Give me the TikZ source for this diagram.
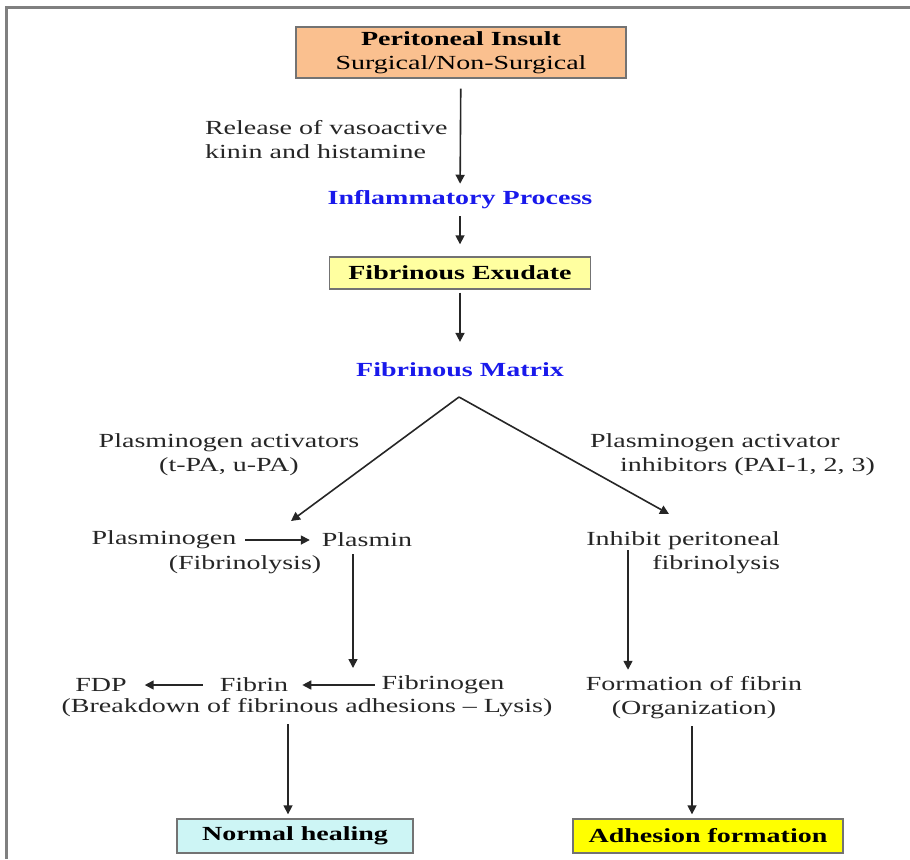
\documentclass[tikz,border=0pt]{standalone}
\usepackage{fontspec}
\setmainfont[FakeStretch=1.4]{Liberation Serif}
\usepackage{tikz}
\usetikzlibrary{arrows.meta,positioning}
\definecolor{cins}{RGB}{250,192,143}
\definecolor{cexu}{RGB}{255,255,160}
\definecolor{cheal}{RGB}{205,245,245}
\definecolor{cadh}{RGB}{255,255,0}
\definecolor{cproc}{RGB}{25,25,235}
\definecolor{cframe}{RGB}{128,128,128}

\begin{document}
\begin{tikzpicture}[x=0.5pt,y=-0.5pt,>={Triangle[length=4.5pt,width=4.5pt]},
  blk/.style={draw=black!55,line width=0.7pt,align=center,inner sep=2pt,text=black},
  lbl/.style={text=black!85,align=center,inner sep=3.33pt},
  proc/.style={text=cproc,font=\bfseries,inner sep=3.33pt},
  arr/.style={->,line width=0.8pt,draw=black!85}]
\useasboundingbox (0,0) rectangle (910,859);
\draw[cframe,line width=1.5pt] (910,7) -- (6,7) -- (6,859);
% top of the cascade
\node (ins) [blk,fill=cins,minimum width=165pt,minimum height=25.5pt] at (461,52.5)
      {\textbf{Peritoneal Insult}\\ Surgical/Non-Surgical};
\node (rel) [lbl,align=left,anchor=west] at (198,140)
      {Release of vasoactive\\ kinin and histamine};
\node (infl) [proc] at (460,200) {Inflammatory Process};
\node (exu) [blk,fill=cexu,minimum width=130.5pt,minimum height=16pt] at (460,273)
      {\textbf{Fibrinous Exudate}};
\node (mat) [proc] at (460,370) {Fibrinous Matrix};
\coordinate (split) at (459,397);
\coordinate (lt) at (291,521);
\coordinate (rt) at (669,514);
% left branch
\node (pa) [lbl] at (229,455) {Plasminogen activators\\ (t-PA, u-PA)};
\node (pgen) [lbl] at (164,540) {Plasminogen};
\node (plasmin) [lbl] at (367,540) {Plasmin};
\node (fibly) [lbl] at (245,565) {(Fibrinolysis)};
\node (fdp) [lbl] at (101,685) {FDP};
\node (fibrin) [lbl] at (254,685) {Fibrin};
\node (fgen) [lbl] at (443,685) {Fibrinogen};
\node (brk) [lbl] at (307,708) {(Breakdown of fibrinous adhesions -- Lysis)};
\coordinate (conv) at (353,668);
\node (heal) [blk,fill=cheal,minimum width=118pt,minimum height=17pt] at (295,836)
      {\textbf{Normal healing}};
% right branch
\node (pai) [lbl,align=left,anchor=west] at (583,455)
      {Plasminogen activator\\ \hspace*{15pt}inhibitors (PAI-1, 2, 3)};
\node (inh) [lbl,align=right,anchor=east] at (787,553)
      {Inhibit peritoneal\\ fibrinolysis};
\coordinate (inhs) at (628,550);
\node (form) [lbl] at (694,698) {Formation of fibrin\\ (Organization)};
\node (adh) [blk,fill=cadh,minimum width=135pt,minimum height=17pt] at (708,836)
      {\textbf{Adhesion formation}};
\draw[arr,shorten <=5pt] (ins) -- (infl);
\draw[arr,shorten >=6pt] (infl) -- (exu);
\draw[arr,shorten <=1.5pt,shorten >=7pt] (exu) -- (mat);
\draw[arr] (split) -- (lt);
\draw[arr] (split) -- (rt);
\draw[arr,shorten <=1pt,shorten >=2.5pt] (pgen) -- (plasmin);
\draw[arr] (plasmin.south -| conv) -- (conv);
\draw[arr,shorten >=3.5pt] (fgen) -- (fibrin);
\draw[arr,shorten <=5pt,shorten >=5.5pt] (fibrin) -- (fdp);
\draw[arr,shorten >=2pt] (brk.south -| 288,0) -- (heal.north -| 288,0);
\draw[arr] (inhs) -- (inhs |- form.north);
\draw[arr,shorten >=2pt] (form.south -| 692,0) -- (adh.north -| 692,0);
\end{tikzpicture}
\end{document}
